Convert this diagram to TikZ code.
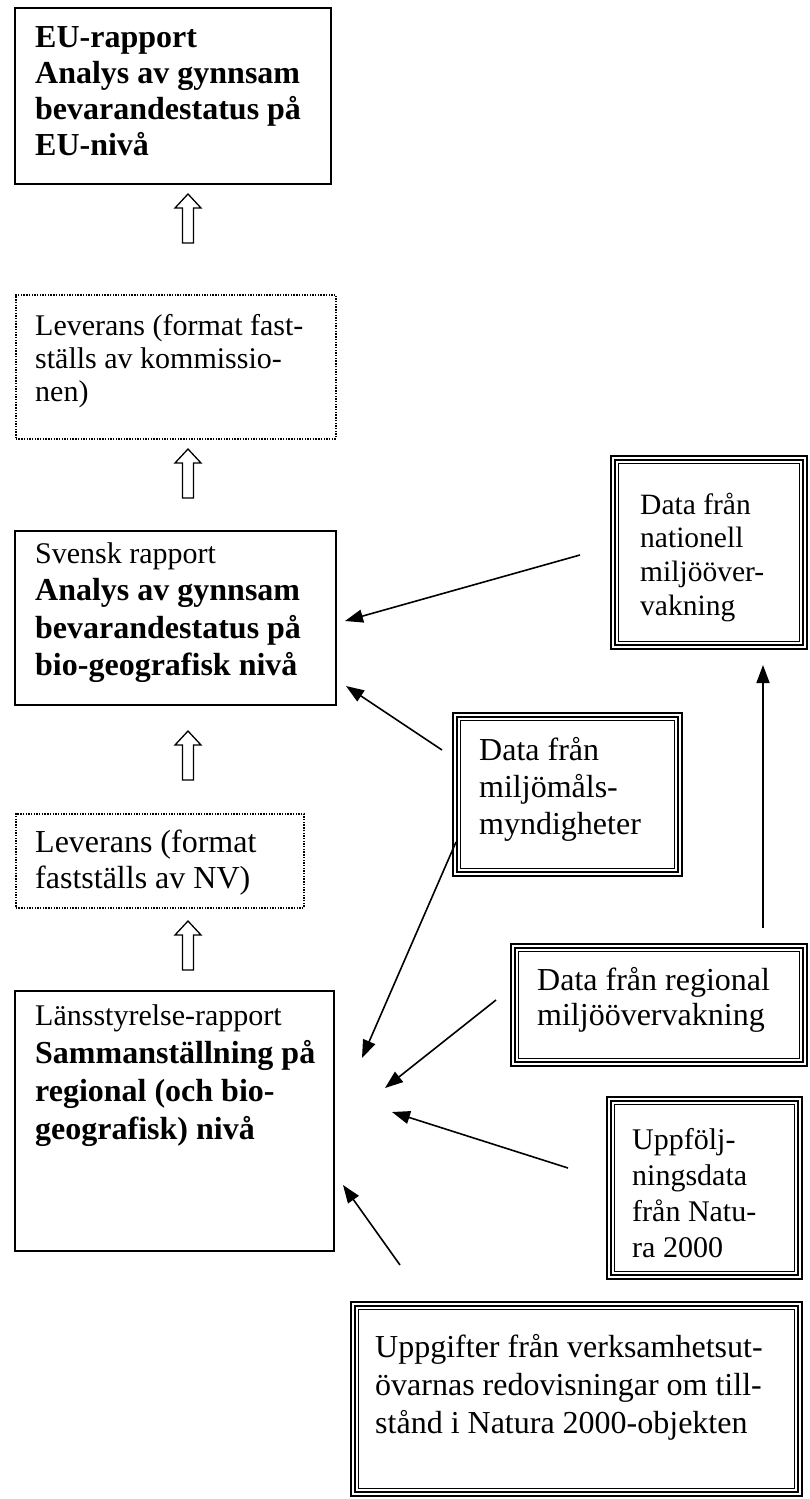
\documentclass[tikz,border=0pt]{standalone}
\usepackage{fontspec}
\setmainfont{Liberation Serif}
\usetikzlibrary{arrows.meta}
\newcommand{\tstrut}{\rule{0pt}{26pt}}
\newcommand{\boxnode}[6]{\node[#1, anchor=north west, inner sep=0pt, minimum width=#5pt-#3pt, minimum height=#6pt-#4pt] (#2) at (#3,-#4) {};}
\newcommand{\tribox}[5]{%
  \node[draw, line width=2.3pt, anchor=north west, inner sep=0pt, minimum width=#4pt-#2pt-2.3pt, minimum height=#5pt-#3pt-2.3pt] (#1) at (#2,-#3) {};
  \draw[line width=1.9pt] ([shift={(5.3pt,-5.3pt)}]#1.north west) rectangle ([shift={(-5.3pt,5.3pt)}]#1.south east);
  \draw[line width=1pt] ([shift={(8.7pt,-8.7pt)}]#1.north west) rectangle ([shift={(-8.7pt,8.7pt)}]#1.south east);}
\newcommand{\hollowup}[2]{\draw[hollow] (#1,-#2) -- ++(13,-14) -- ++(-7.5,0) -- ++(0,-35) -- ++(-11,0) -- ++(0,35) -- ++(-7.5,0) -- cycle;}
\begin{document}
\begin{tikzpicture}[x=1pt,y=1pt,
  solidbox/.style={draw, line width=2pt},
  dotbox/.style={draw, line width=1.5pt, dash pattern=on 1.4pt off 1.3pt},
  txt/.style={anchor=north west, inner sep=0pt, align=left},
  link/.style={line width=1.6pt, -{Triangle[length=18pt,width=13pt]}},
  hollow/.style={draw, line width=1.3pt, fill=white}]
\useasboundingbox (0,0) rectangle (810,-1499);
\fill[white] (0,0) rectangle (810,-1499);
% left column boxes
\boxnode{solidbox}{eu}{14}{7}{330}{183}
\boxnode{dotbox}{levA}{15}{294}{335}{438}
\boxnode{solidbox}{sv}{14}{530}{335}{704}
\boxnode{dotbox}{levB}{15}{813}{303}{907}
\boxnode{solidbox}{lan}{14}{990}{333}{1250}
% right data boxes
\tribox{nat}{610}{455}{808}{650}
\tribox{mil}{452}{712}{683}{877}
\tribox{reg}{510}{943}{808}{1067}
\tribox{upp}{606}{1096}{803}{1280}
\tribox{bot}{350}{1301}{803}{1497}
% texts
\node[txt, font=\bfseries\fontsize{32}{36}\selectfont] (eut) at (35,-21) {\tstrut EU-rapport\\Analys av gynnsam\\bevarandestatus på\\EU-nivå};
\node[txt, font=\fontsize{30}{33}\selectfont] (levAt) at (35,-309) {\tstrut Leverans (format fast-\\ställs av kommissio-\\nen)};
\node[txt, font=\fontsize{32}{37.5}\selectfont] (svt) at (35,-537) {{\fontsize{30}{37.5}\selectfont\tstrut Svensk rapport}\\\bfseries Analys av gynnsam\\\bfseries bevarandestatus på\\\bfseries bio-geografisk nivå};
\node[txt, font=\fontsize{32}{36}\selectfont] (levBt) at (35,-826) {\tstrut Leverans (format\\fastställs av NV)};
\node[txt, font=\fontsize{32}{38}\selectfont] (lant) at (35,-999) {{\fontsize{30}{38}\selectfont\tstrut Länsstyrelse-rapport}\\\bfseries Sammanställning på\\\bfseries regional (och bio-\\\bfseries geografisk) nivå};
\node[txt, font=\fontsize{29.5}{33.7}\selectfont] (natt) at (640,-488) {\tstrut Data från\\nationell\\miljööver-\\vakning};
\node[txt, font=\fontsize{32}{37}\selectfont] (milt) at (479,-734) {\tstrut Data från\\miljömåls-\\myndigheter};
\node[txt, font=\fontsize{32}{35}\selectfont] (regt) at (537,-964) {\tstrut Data från regional\\miljöövervakning};
\node[txt, font=\fontsize{30}{36}\selectfont] (uppt) at (632,-1123) {\tstrut Uppfölj-\\ningsdata\\från Natu-\\ra 2000};
\node[txt, font=\fontsize{32}{38}\selectfont] (bott) at (375,-1331) {\tstrut Uppgifter från verksamhetsut-\\övarnas redovisningar om till-\\stånd i Natura 2000-objekten};
% hollow arrows
\hollowup{188}{194}
\hollowup{188}{449}
\hollowup{188}{731}
\hollowup{188}{921}
% connector end points
\coordinate (natS) at (580,-555);
\coordinate (natE) at (345,-621);
\coordinate (milS) at (442,-750);
\coordinate (milE) at (346,-686);
\coordinate (regUpS) at (763,-928);
\coordinate (regUpE) at (763,-665);
\coordinate (milLS) at (456,-842);
\coordinate (milLE) at (362,-1058);
\coordinate (regLS) at (496,-1000);
\coordinate (regLE) at (385,-1088);
\coordinate (uppLS) at (568,-1168);
\coordinate (uppLE) at (392,-1112);
\coordinate (botLS) at (400,-1265);
\coordinate (botLE) at (343,-1185);
\draw[link] (natS) -- (natE);
\draw[link] (milS) -- (milE);
\draw[link] (regUpS) -- (regUpE);
\draw[link] (milLS) -- (milLE);
\draw[link] (regLS) -- (regLE);
\draw[link] (uppLS) -- (uppLE);
\draw[link] (botLS) -- (botLE);
\end{tikzpicture}
\end{document}
